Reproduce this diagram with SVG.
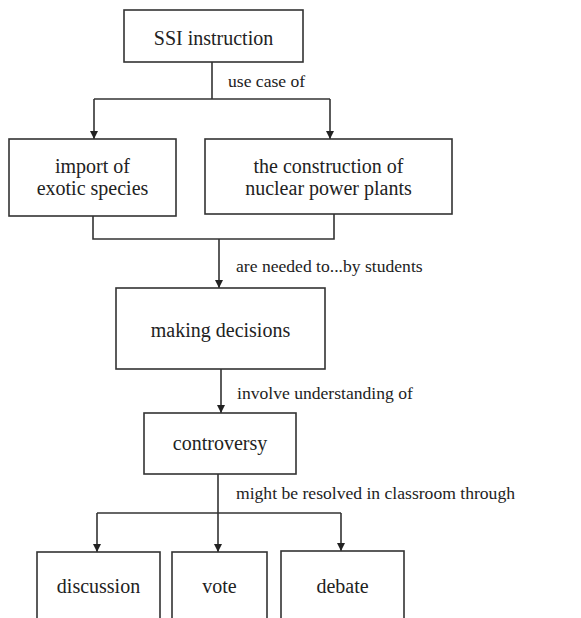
<svg xmlns="http://www.w3.org/2000/svg" width="581" height="618" viewBox="0 0 581 618">
<style>
.box{fill:#fff;stroke:#333;stroke-width:1.6}
.node{font-family:"Liberation Serif","Times New Roman",serif;font-size:20px;fill:#222;text-anchor:middle}
.lbl{font-family:"Liberation Serif","Times New Roman",serif;font-size:17.6px;fill:#222}
.ln{fill:none;stroke:#333;stroke-width:1.6}
</style>
<defs>
<marker id="ah" markerWidth="8" markerHeight="8" refX="8" refY="4" orient="auto" markerUnits="userSpaceOnUse">
<path d="M0,0 L8,4 L0,8 Z" fill="#222"/>
</marker>
</defs>
<rect width="581" height="618" fill="#fff"/>
<g id="connectors">
<path class="ln" d="M212,62 V99"/>
<path class="ln" d="M94,99 H330"/>
<path class="ln" d="M94,99 V139" marker-end="url(#ah)"/>
<path class="ln" d="M330,99 V139" marker-end="url(#ah)"/>
<path class="ln" d="M93,216 V239 H334 V214"/>
<path class="ln" d="M219,239 V288" marker-end="url(#ah)"/>
<path class="ln" d="M221,369 V413" marker-end="url(#ah)"/>
<path class="ln" d="M218,474 V513"/>
<path class="ln" d="M97,513 H341"/>
<path class="ln" d="M97,513 V552" marker-end="url(#ah)"/>
<path class="ln" d="M218,513 V552" marker-end="url(#ah)"/>
<path class="ln" d="M341,513 V551" marker-end="url(#ah)"/>
<text class="lbl" x="228" y="87">use case of</text>
<text class="lbl" x="236" y="272">are needed to...by students</text>
<text class="lbl" x="237" y="399">involve understanding of</text>
<text class="lbl" x="236" y="499">might be resolved in classroom through</text>
</g>
<g id="ssi">
<rect class="box" x="124" y="10" width="179" height="52"/>
<text class="node" x="213.5" y="45">SSI instruction</text>
</g>
<g id="import">
<rect class="box" x="9" y="139" width="167" height="77"/>
<text class="node" x="92.5" y="173">import of</text>
<text class="node" x="92.5" y="195">exotic species</text>
</g>
<g id="nuclear">
<rect class="box" x="205" y="139" width="247" height="75"/>
<text class="node" x="328.5" y="173">the construction of</text>
<text class="node" x="328.5" y="195">nuclear power plants</text>
</g>
<g id="decisions">
<rect class="box" x="116" y="288" width="209" height="81"/>
<text class="node" x="220.5" y="337">making decisions</text>
</g>
<g id="controversy">
<rect class="box" x="144" y="413" width="152" height="61"/>
<text class="node" x="220" y="450">controversy</text>
</g>
<g id="discussion">
<rect class="box" x="37" y="552" width="123" height="80"/>
<text class="node" x="98.5" y="593">discussion</text>
</g>
<g id="vote">
<rect class="box" x="172" y="552" width="95" height="80"/>
<text class="node" x="219.5" y="593">vote</text>
</g>
<g id="debate">
<rect class="box" x="281" y="551" width="123" height="80"/>
<text class="node" x="342.5" y="593">debate</text>
</g>
</svg>
